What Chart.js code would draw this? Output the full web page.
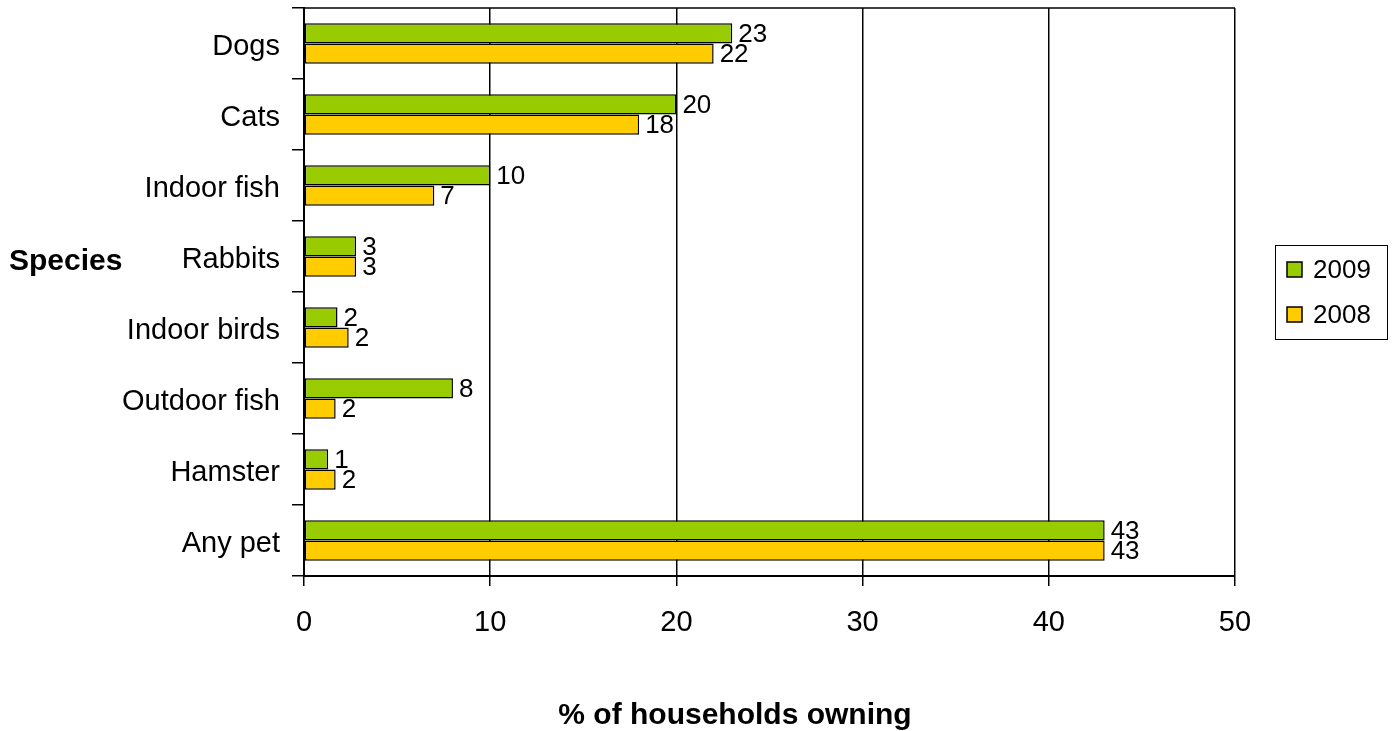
<!DOCTYPE html>
<html>
<head>
<meta charset="utf-8">
<script src="https://cdn.jsdelivr.net/npm/chart.js@4.4.1/dist/chart.umd.min.js"></script>
<style>
html,body{margin:0;padding:0;background:#fff;}
#wrap{width:1394px;height:731px;position:relative;}
</style>
</head>
<body>
<div id="wrap"><canvas id="c" width="1394" height="731"></canvas></div>
<script>
const categories = ['Dogs','Cats','Indoor fish','Rabbits','Indoor birds','Outdoor fish','Hamster','Any pet'];
const values2009 = [23, 20, 10, 2.8, 1.8, 8, 1.3, 43];
const values2008 = [22, 18, 7, 2.8, 2.4, 1.7, 1.7, 43];
const labels2009 = ['23','20','10','3','2','8','1','43'];
const labels2008 = ['22','18','7','3','2','2','2','43'];
const xTicks = [0, 10, 20, 30, 40, 50];
const seriesNames = ['2009', '2008'];
const xTitle = '% of households owning';
const yTitle = 'Species';

const FAMILY = '"Liberation Sans", Arial, sans-serif';
const GREEN = '#99CC00';
const YELLOW = '#FFCC00';

const extras = {
  id: 'extras',
  afterDatasetsDraw(chart) {
    const ctx = chart.ctx;
    const area = chart.chartArea;
    ctx.save();
    // top border
    ctx.strokeStyle = '#000';
    ctx.lineWidth = 1.5;
    ctx.beginPath();
    ctx.moveTo(area.left, area.top);
    ctx.lineTo(area.right, area.top);
    ctx.stroke();
    // value labels
    ctx.fillStyle = '#000';
    ctx.font = '26px ' + FAMILY;
    ctx.textAlign = 'left';
    ctx.textBaseline = 'middle';
    const lbls = [labels2009, labels2008];
    chart.data.datasets.forEach((ds, di) => {
      const meta = chart.getDatasetMeta(di);
      meta.data.forEach((bar, i) => {
        ctx.fillText(lbls[di][i], bar.x + 6, bar.y + 1);
      });
    });
    // y title (horizontal)
    ctx.font = 'bold 30px ' + FAMILY;
    ctx.textAlign = 'left';
    ctx.fillText(yTitle, 9, 262);
    // x title
    ctx.textAlign = 'center';
    ctx.fillText(xTitle, 735, 716);
    // legend
    ctx.lineWidth = 1;
    ctx.strokeStyle = '#000';
    ctx.strokeRect(1275.5, 245.5, 112, 94);
    ctx.font = '26px ' + FAMILY;
    ctx.textAlign = 'left';
    const ys = [270, 315];
    chart.data.datasets.forEach((ds, di) => {
      ctx.fillStyle = ds.backgroundColor;
      ctx.fillRect(1287, ys[di] - 8, 15, 15);
      ctx.lineWidth = 1.5;
      ctx.strokeRect(1287, ys[di] - 8, 15, 15);
      ctx.fillStyle = '#000';
      ctx.fillText(ds.label, 1313, ys[di] + 1);
    });
    ctx.restore();
  }
};

new Chart(document.getElementById('c'), {
  type: 'bar',
  data: {
    labels: categories,
    datasets: [
      { label: seriesNames[0], data: values2009, backgroundColor: GREEN, borderColor: '#000', borderWidth: 1.5, borderSkipped: false },
      { label: seriesNames[1], data: values2008, backgroundColor: YELLOW, borderColor: '#000', borderWidth: 1.5, borderSkipped: false }
    ]
  },
  options: {
    indexAxis: 'y',
    responsive: false,
    animation: false,
    devicePixelRatio: 1,
    categoryPercentage: 0.57,
    barPercentage: 1.0,
    layout: { padding: { left: 0, right: 159, top: 8, bottom: 0 } },
    plugins: { legend: { display: false }, tooltip: { enabled: false } },
    scales: {
      y: {
        type: 'category',
        offset: true,
        grid: { display: true, drawOnChartArea: false, drawTicks: true, tickLength: 12, color: '#000', lineWidth: 1.5, offset: true },
        border: { display: true, color: '#000', width: 2 },
        ticks: { color: '#000', font: { family: FAMILY, size: 29 }, padding: 12, labelOffset: 3 },
        afterFit(scale) { scale.width = 304; scale.paddingTop = 0; scale.paddingBottom = 0; }
      },
      x: {
        type: 'linear',
        min: 0,
        max: 50,
        afterBuildTicks(scale) { scale.ticks = xTicks.map(v => ({ value: v })); },
        grid: { display: true, drawOnChartArea: true, drawTicks: true, tickLength: 10, color: '#000', lineWidth: 1.5 },
        border: { display: true, color: '#000', width: 2 },
        ticks: { color: '#000', font: { family: FAMILY, size: 29 }, padding: 20 },
        afterFit(scale) { scale.height = 155; }
      }
    }
  },
  plugins: [extras]
});
</script>
</body>
</html>
